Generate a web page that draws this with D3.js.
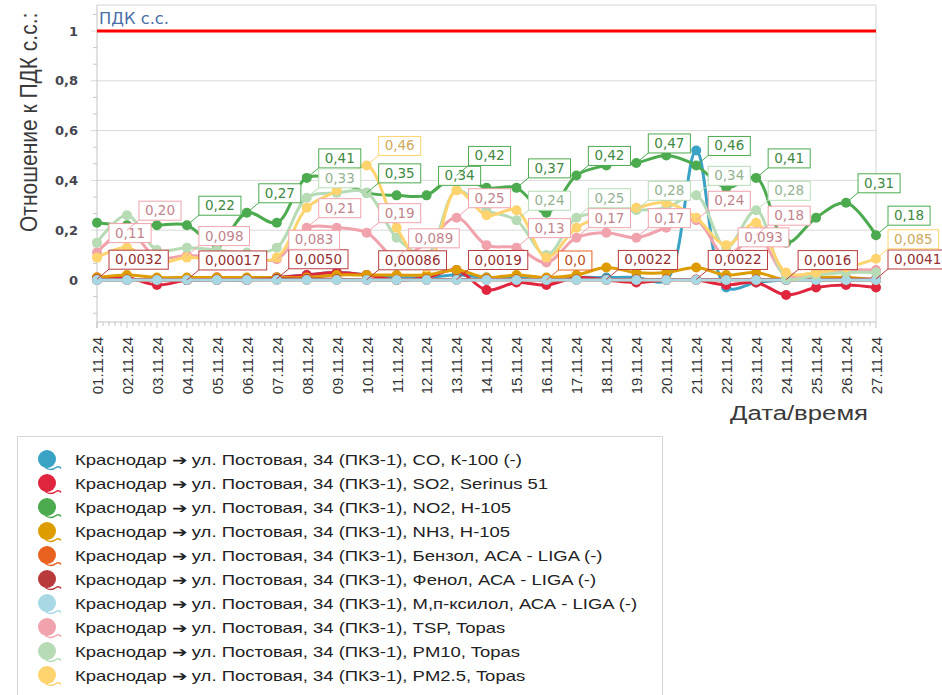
<!DOCTYPE html>
<html>
<head>
<meta charset="utf-8">
<script src="https://cdn.jsdelivr.net/npm/d3@7"></script>
<style>
  body { margin: 0; background: #fff; }
  svg { display: block; font-family: "DejaVu Sans", sans-serif; }
</style>
</head>
<body>
<svg id="svg" width="942" height="695"></svg>
<script>
// даты по оси X
const dates = [
  "01.11.24", "02.11.24", "03.11.24", "04.11.24", "05.11.24", "06.11.24", "07.11.24",
  "08.11.24", "09.11.24", "10.11.24", "11.11.24", "12.11.24", "13.11.24", "14.11.24",
  "15.11.24", "16.11.24", "17.11.24", "18.11.24", "19.11.24", "20.11.24", "21.11.24",
  "22.11.24", "23.11.24", "24.11.24", "25.11.24", "26.11.24", "27.11.24"
];

// отношение к ПДК по каждому веществу
const co = [0, 0, 0, 0, 0, 0, 0.01, 0.02, 0.03, 0.02, 0.01, 0.01, 0.02, 0.01, 0.01, 0, 0.01, 0.01, 0.01, 0, 0.52, -0.03, -0.01, 0, 0, 0, 0];
const so2 = [0.01, 0.01, -0.02, 0, 0.01, 0, 0.01, 0.02, 0.03, 0.02, 0, 0.01, 0.04, -0.04, -0.01, -0.02, 0.01, 0, -0.01, 0, 0, -0.02, -0.01, -0.06, -0.03, -0.02, -0.03];
const no2 = [0.23, 0.22, 0.22, 0.22, 0.14, 0.27, 0.23, 0.41, 0.40, 0.35, 0.34, 0.34, 0.42, 0.37, 0.37, 0.27, 0.42, 0.46, 0.47, 0.50, 0.46, 0.37, 0.41, 0.15, 0.25, 0.31, 0.18];
const nh3 = [0.01, 0.02, 0.01, 0.01, 0.01, 0.01, 0.01, 0.01, 0.02, 0.02, 0.02, 0.02, 0.04, 0.01, 0.02, 0.01, 0.02, 0.05, 0.03, 0.03, 0.05, 0.02, 0.03, 0, 0.01, 0.01, 0];
const benzene = [0, 0, 0, 0, 0, 0, 0, 0, 0, 0, 0, 0, 0, 0, 0, 0, 0, 0, 0, 0, 0, 0, 0, 0, 0, 0, 0];
const phenol = [0.0032, 0.002, 0.001, 0.00017, 0.001, 0.002, 0.005, 0.004, 0.003, 0.00086, 0.001, 0.002, 0.0019, 0.002, 0.002, 0.001, 0.002, 0.0022, 0.002, 0.002, 0.0022, 0.002, 0.002, 0.0016, 0.002, 0.003, 0.0041];
const xylene = [0, 0, 0, 0, 0, 0, 0, 0, 0, 0, 0, 0, 0, 0, 0, 0, 0, 0, 0, 0, 0, 0, 0, 0, 0, 0, 0];
const tsp = [0.11, 0.20, 0.09, 0.098, 0.09, 0.09, 0.083, 0.21, 0.21, 0.19, 0.089, 0.15, 0.25, 0.14, 0.13, 0.07, 0.17, 0.19, 0.17, 0.21, 0.24, 0.093, 0.18, 0.02, 0.03, 0.04, 0.04];
const pm10 = [0.15, 0.26, 0.12, 0.13, 0.12, 0.11, 0.13, 0.33, 0.35, 0.35, 0.17, 0.10, 0.36, 0.28, 0.24, 0.10, 0.25, 0.27, 0.28, 0.29, 0.34, 0.13, 0.28, 0.01, 0.02, 0.03, 0.03];
const pm25 = [0.09, 0.13, 0.07, 0.09, 0.08, 0.08, 0.09, 0.29, 0.36, 0.46, 0.21, 0.05, 0.36, 0.26, 0.28, 0.09, 0.21, 0.26, 0.29, 0.31, 0.25, 0.14, 0.23, 0.03, 0.03, 0.05, 0.085];

// точки, у которых показана подпись значения
const no2Labels = [3, 5, 7, 9, 11, 12, 14, 16, 18, 20, 22, 25, 26];
const benzeneLabels = [15];
const phenolLabels = [0, 3, 6, 9, 12, 17, 20, 23, 26];
const tspLabels = [0, 1, 3, 6, 7, 9, 10, 12, 14, 16, 18, 20, 21, 22];
const pm10Labels = [7, 14, 16, 18, 20, 22];
const pm25Labels = [9, 26];

const yTicks = [0, 0.2, 0.4, 0.6, 0.8, 1];
const limitValue = 1;

const place = "Краснодар \u2794 ул. Постовая, 34 (ПКЗ-1), ";
const seriesNames = [
  "CO, К-100 (-)", "SO2, Serinus 51", "NO2, Н-105", "NH3, Н-105", "Бензол, АСА - LIGA (-)",
  "Фенол, АСА - LIGA (-)", "М,п-ксилол, АСА - LIGA (-)", "TSP, Topas", "PM10, Topas", "PM2.5, Topas"
];
const seriesColors = [
  "#3aa2c4", "#e0253f", "#4caa4f", "#dd9c00", "#e8611f",
  "#b93a3d", "#a8d8e4", "#f0a3ad", "#b7dcb5", "#ffd36e"
];

const series = [
  { values: co, labels: [] },
  { values: so2, labels: [] },
  { values: no2, labels: no2Labels },
  { values: nh3, labels: [] },
  { values: benzene, labels: benzeneLabels },
  { values: phenol, labels: phenolLabels },
  { values: xylene, labels: [] },
  { values: tsp, labels: tspLabels },
  { values: pm10, labels: pm10Labels },
  { values: pm25, labels: pm25Labels }
].map((s, i) => ({ ...s, name: place + seriesNames[i], color: seriesColors[i] }));

const svg = d3.select("#svg");

// область построения
const plotLeft = 97, plotRight = 876, plotTop = 5, plotBottom = 322;
const x = d3.scaleLinear().domain([0, dates.length - 1]).range([plotLeft, plotRight]);
const y = d3.scaleLinear().domain([0, 1]).range([280, 31]);

// сетка
svg.append("g")
  .selectAll("line")
  .data(yTicks)
  .join("line")
  .attr("x1", plotLeft - 6)
  .attr("x2", plotRight)
  .attr("y1", d => y(d))
  .attr("y2", d => y(d))
  .attr("stroke", "#d9d9d9");

// мелкие засечки по Y
const yMinor = d3.range(-2, 17)
  .map(k => k * 0.2 / 3)
  .filter(v => y(v) < plotBottom && y(v) > plotTop && Math.abs(v * 5 - Math.round(v * 5)) > 0.01);
svg.append("g")
  .selectAll("line")
  .data(yMinor)
  .join("line")
  .attr("x1", plotLeft - 4)
  .attr("x2", plotLeft)
  .attr("y1", d => y(d))
  .attr("y2", d => y(d))
  .attr("stroke", "#c8c8c8");

// рамка
svg.append("path")
  .attr("d", `M${plotLeft},${plotTop}H${plotRight}V${plotBottom}`)
  .attr("fill", "none")
  .attr("stroke", "#d4d4d4");
svg.append("line")
  .attr("x1", plotLeft).attr("x2", plotLeft)
  .attr("y1", plotTop).attr("y2", plotBottom + 6)
  .attr("stroke", "#c4c4c4");
svg.append("line")
  .attr("x1", plotLeft).attr("x2", plotRight)
  .attr("y1", plotBottom).attr("y2", plotBottom)
  .attr("stroke", "#c4c4c4");

// засечки по X (4 мелких между датами)
const xMinor = d3.range(0, (dates.length - 1) * 5 + 1).map(k => k / 5);
svg.append("g")
  .selectAll("line")
  .data(xMinor)
  .join("line")
  .attr("x1", d => x(d))
  .attr("x2", d => x(d))
  .attr("y1", plotBottom)
  .attr("y2", d => (Number.isInteger(d) ? plotBottom + 6 : plotBottom + 4))
  .attr("stroke", "#c4c4c4");

// подписи оси Y
const yAxis = svg.append("g")
  .attr("transform", `translate(${plotLeft},0)`)
  .call(d3.axisLeft(y).tickValues(yTicks).tickSize(0).tickPadding(19)
    .tickFormat(d => d3.format("~g")(d).replace(".", ",")));
yAxis.select(".domain").remove();
yAxis.selectAll("text")
  .attr("font-family", "DejaVu Sans, sans-serif")
  .attr("font-size", 13)
  .attr("font-weight", "bold")
  .attr("fill", "#45454f");

// подписи оси X
const xAxis = svg.append("g")
  .attr("transform", `translate(0,${plotBottom})`)
  .call(d3.axisBottom(x).tickValues(d3.range(dates.length)).tickSize(0)
    .tickFormat(i => dates[i]));
xAxis.select(".domain").remove();
xAxis.selectAll("text")
  .attr("transform", "rotate(-90)")
  .attr("text-anchor", "end")
  .attr("x", -15)
  .attr("y", 0)
  .attr("dy", "0.36em")
  .attr("font-family", "Liberation Sans, sans-serif")
  .attr("font-size", 15)
  .attr("fill", "#333");

// заголовки осей
svg.append("text")
  .attr("transform", "translate(37,232) scale(1.15,1) rotate(-90)")
  .attr("font-family", "Liberation Sans, sans-serif")
  .attr("font-size", 21)
  .attr("fill", "#3a3a3a")
  .text("Отношение к ПДК с.с.:");

svg.append("text")
  .attr("x", 730)
  .attr("y", 420)
  .attr("textLength", 138)
  .attr("lengthAdjust", "spacingAndGlyphs")
  .attr("font-family", "Liberation Sans, sans-serif")
  .attr("font-size", 20)
  .attr("fill", "#3a3a3a")
  .text("Дата/время");

// линия ПДК
svg.append("line")
  .attr("x1", plotLeft)
  .attr("x2", plotRight)
  .attr("y1", y(limitValue))
  .attr("y2", y(limitValue))
  .attr("stroke", "#ff0000")
  .attr("stroke-width", 3);
svg.append("text")
  .attr("x", 99)
  .attr("y", 24)
  .attr("textLength", 70)
  .attr("lengthAdjust", "spacingAndGlyphs")
  .attr("font-size", 15)
  .attr("fill", "#4a6ea6")
  .text("ПДК с.с.");

// линии и маркеры
const line = d3.line()
  .x((d, i) => x(i))
  .y(d => y(d))
  .curve(d3.curveCatmullRom.alpha(0.5));

series.forEach(s => {
  const g = svg.append("g");
  g.append("path")
    .attr("d", line(s.values))
    .attr("fill", "none")
    .attr("stroke", s.color)
    .attr("stroke-width", 3);
  g.selectAll("circle")
    .data(s.values)
    .join("circle")
    .attr("cx", (d, i) => x(i))
    .attr("cy", d => y(d))
    .attr("r", 5)
    .attr("fill", s.color);
});

// подписи значений
const fmt = v => d3.format(".2r")(v).replace(".", ",");
const labelLayer = svg.append("g");
series.forEach(s => {
  s.labels.forEach(i => {
    const px = x(i);
    const py = y(s.values[i]);
    labelLayer.append("line")
      .attr("x1", px).attr("y1", py)
      .attr("x2", px + 12).attr("y2", py - 10)
      .attr("stroke", s.color);
    const g = labelLayer.append("g")
      .attr("transform", `translate(${px + 12},${py - 10})`);
    const rect = g.append("rect")
      .attr("y", -19)
      .attr("height", 19)
      .attr("fill", "#fff")
      .attr("stroke", s.color);
    const t = g.append("text")
      .attr("x", 6)
      .attr("y", -5)
      .attr("font-size", 13.5)
      .attr("fill", d3.color(s.color).darker(0.6))
      .text(fmt(s.values[i]));
    rect.attr("width", t.node().getComputedTextLength() + 12);
  });
});

// легенда
svg.append("rect")
  .attr("x", 17.5)
  .attr("y", 436.5)
  .attr("width", 645)
  .attr("height", 280)
  .attr("fill", "#fff")
  .attr("stroke", "#d6d6d6");

const legend = svg.append("g")
  .selectAll("g")
  .data(series)
  .join("g")
  .attr("transform", (d, i) => `translate(0,${460 + i * 24})`);
legend.append("circle")
  .attr("cx", 47)
  .attr("cy", -1)
  .attr("r", 9)
  .attr("fill", d => d.color);
legend.append("path")
  .attr("d", "M45,7.5 q6,4 11,0 q3,-2 5,1")
  .attr("fill", "none")
  .attr("stroke", d => d.color)
  .attr("stroke-width", 1.5);
// текст легенды растянут по ширине, как в оригинале
legend.append("text")
  .attr("transform", "translate(75,5) scale(1.32,1)")
  .attr("font-family", "Liberation Sans, sans-serif")
  .attr("font-size", 14)
  .attr("fill", "#222")
  .text(d => d.name);
</script>
</body>
</html>
